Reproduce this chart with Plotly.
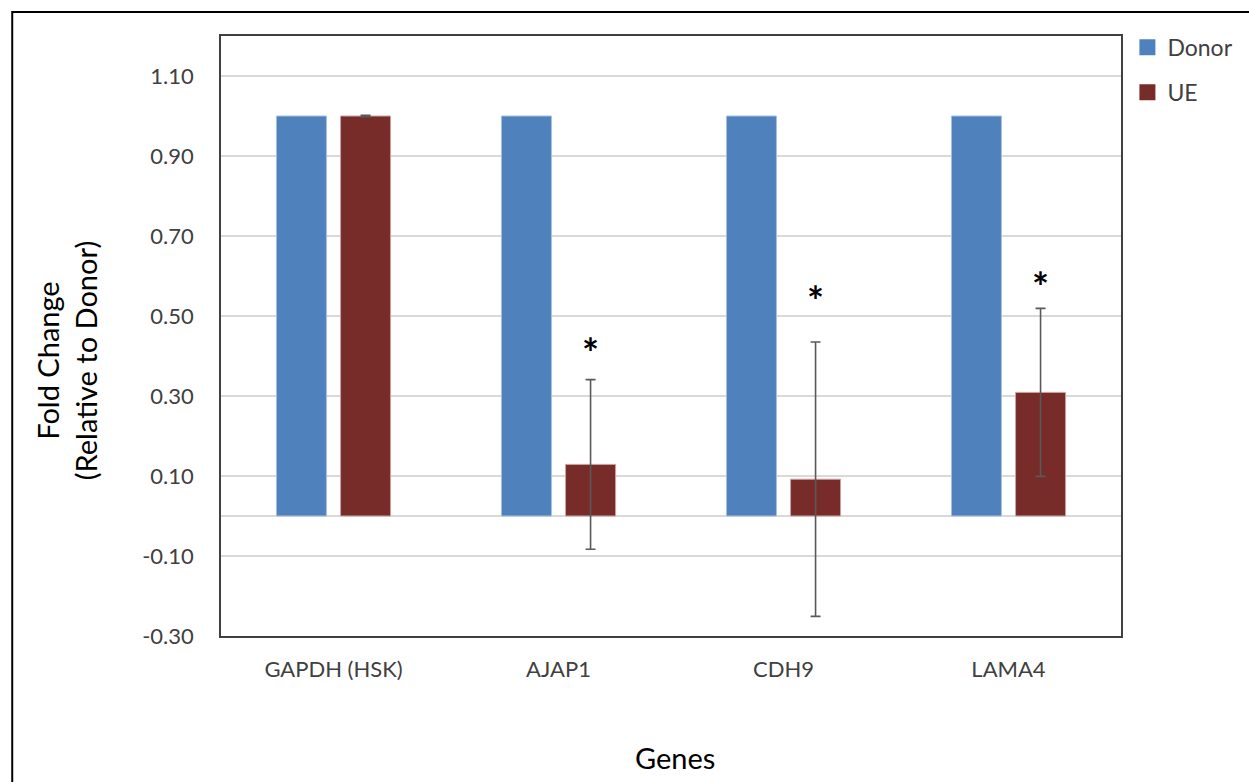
import plotly.graph_objects as go

# ---- data ----
genes = ["GAPDH (HSK)", "AJAP1", "CDH9", "LAMA4"]
donor = [1.0, 1.0, 1.0, 1.0]
ue = [1.0, 0.129, 0.092, 0.309]
ue_err = [0.002, 0.212, 0.343, 0.210]
significance = ["", "*", "*", "*"]
star_level = [None, 0.43, 0.56, 0.595]
y_ticks = [-0.30, -0.10, 0.10, 0.30, 0.50, 0.70, 0.90, 1.10]
y_tick_text = [f"{v:.2f}" for v in y_ticks]

FONT = "Lato"
W, H = 1249, 782
L, R, T, B = 221, 127, 36, 146
DONOR_C = "#4F81BD"
UE_C = "#772C2A"

fig = go.Figure()
fig.add_trace(go.Bar(
    name="Donor", x=genes, y=donor,
    marker=dict(color=DONOR_C, line=dict(color="#A7C0DE", width=1)),
    showlegend=False,
))
fig.add_trace(go.Bar(
    name="UE", x=genes, y=ue,
    marker=dict(color=UE_C, line=dict(color="#C9A3A2", width=1)),
    error_y=dict(type="data", array=ue_err, visible=True,
                 color="#595959", thickness=1.6, width=5),
    showlegend=False,
))
# legend entries with larger square swatches
for nm, col, grp in [("Donor", DONOR_C, "d"), ("UE", UE_C, "u")]:
    fig.add_trace(go.Scatter(
        name=nm, x=[None], y=[None], mode="markers",
        marker=dict(symbol="square", size=16, color=col),
        legendgroup=grp, showlegend=True,
    ))

annotations = []
for g, s, lvl in zip(genes, significance, star_level):
    if s:
        annotations.append(dict(
            x=g, y=lvl, xref="x", yref="y", text=f"<b>{s}</b>",
            showarrow=False, xshift=32, yshift=-9,
            font=dict(family=FONT, size=40, color="black"),
        ))

pw = W - L - R
ph = H - T - B
annotations.append(dict(
    x=(66 - L) / pw, y=(636 - 361) / ph, xref="paper", yref="paper",
    text="Fold Change<br>(Relative to Donor)", textangle=-90, showarrow=False,
    font=dict(family=FONT, size=29, color="black"),
    xanchor="center", yanchor="middle",
))
annotations.append(dict(
    x=(676 - L) / pw, y=(636 - 757) / ph, xref="paper", yref="paper",
    text="Genes", showarrow=False,
    font=dict(family=FONT, size=29, color="black"),
    xanchor="center", yanchor="middle",
))

fig.update_layout(
    width=W, height=H,
    margin=dict(l=L, r=R, t=T, b=B, pad=0),
    paper_bgcolor="white", plot_bgcolor="white",
    barmode="group", bargap=0.43, bargroupgap=0.22,
    font=dict(family=FONT, size=22, color="#404040"),
    showlegend=True,
    legend=dict(x=1.006, y=1.017, xanchor="left", yanchor="top",
                traceorder="grouped", tracegroupgap=12,
                font=dict(family=FONT, size=23, color="#404040"),
                bgcolor="rgba(0,0,0,0)", itemwidth=30),
    annotations=annotations,
    shapes=[dict(type="rect", xref="paper", yref="paper",
                 x0=(12 - L) / pw, x1=1.5, y0=-1.0, y1=(636 - 12) / ph,
                 line=dict(color="black", width=2), layer="below")],
)
fig.update_xaxes(
    showline=True, linecolor="#404040", linewidth=1.5, mirror=True,
    showgrid=False, ticks="", ticklabelstandoff=13,
    tickfont=dict(family=FONT, size=22, color="#404040"),
)
fig.update_yaxes(
    range=[-0.30, 1.20], tickvals=y_ticks, ticktext=y_tick_text,
    showline=True, linecolor="#404040", linewidth=1.5, mirror=True,
    showgrid=True, gridcolor="#D9D9D9", gridwidth=1.5,
    zeroline=True, zerolinecolor="#D9D9D9", zerolinewidth=1.5,
    ticks="", ticklabelstandoff=21,
    tickfont=dict(family=FONT, size=22, color="#404040"),
)

fig.write_html("out.html", config={"displayModeBar": False},
               post_script="document.body.style.margin='0px';")
